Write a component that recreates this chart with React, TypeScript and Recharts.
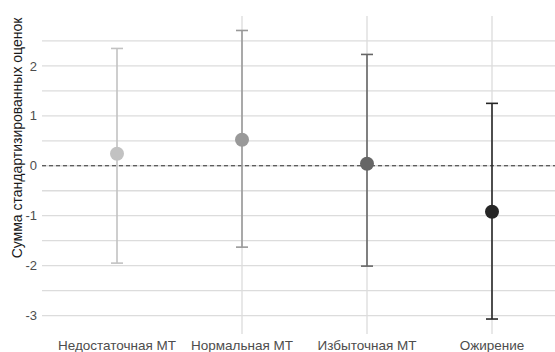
import React from "react";
import {
  ComposedChart,
  Scatter,
  ErrorBar,
  XAxis,
  YAxis,
  CartesianGrid,
  ReferenceLine,
} from "recharts";

const categories = ["Недостаточная МТ", "Нормальная МТ", "Избыточная МТ", "Ожирение"];
const means = [0.24, 0.52, 0.04, -0.92];
const lower = [-1.95, -1.63, -2.01, -3.07];
const upper = [2.35, 2.71, 2.23, 1.25];
const colors = ["#c2c2c2", "#999999", "#666666", "#262626"];

const yTicks = [-3, -2, -1, 0, 1, 2];
const gridY = [-3, -2.5, -2, -1.5, -1, -0.5, 0, 0.5, 1, 1.5, 2, 2.5];
const xTicks = [1, 2, 3, 4];

const font = "'Liberation Sans', Arial, sans-serif";

export default function App() {
  const series = categories.map((name, i) => ({
    name,
    color: colors[i],
    data: [{ x: i + 1, y: means[i], err: [means[i] - lower[i], upper[i] - means[i]] }],
  }));

  return (
    <div
      style={{
        position: "absolute",
        left: 0,
        top: 0,
        width: 555,
        height: 352,
        overflow: "hidden",
        background: "#fff",
        fontFamily: font,
      }}
    >
      <ComposedChart
        width={555}
        height={352}
        margin={{ top: 16, right: 0, bottom: 0, left: 0 }}
      >
        <CartesianGrid
          stroke="#dcdcdc"
          strokeWidth={1.3}
          horizontalValues={gridY}
          verticalValues={xTicks}
        />
        <XAxis
          type="number"
          dataKey="x"
          domain={[0.4, 4.504]}
          ticks={xTicks}
          tickFormatter={(v: number) => categories[v - 1]}
          axisLine={false}
          tickLine={false}
          tickSize={0}
          tickMargin={6}
          height={18}
          allowDataOverflow
          tick={{ fill: "#4d4d4d", fontSize: 13.5, fontFamily: font }}
        />
        <YAxis
          type="number"
          dataKey="y"
          domain={[-3.37, 3.0]}
          ticks={yTicks}
          axisLine={false}
          tickLine={false}
          tickSize={0}
          tickMargin={5}
          width={42}
          allowDataOverflow
          tick={{ fill: "#4d4d4d", fontSize: 13, fontFamily: font }}
        />
        <ReferenceLine y={0} stroke="#333" strokeDasharray="4 3" strokeWidth={1.2} />
        {series.map((s) => (
          <Scatter
            key={s.name}
            name={s.name}
            data={s.data}
            isAnimationActive={false}
            shape={(p: any) => <circle cx={p.cx} cy={p.cy} r={7} fill={s.color} />}
          >
            <ErrorBar dataKey="err" direction="y" width={6} stroke={s.color} strokeWidth={1.6} />
          </Scatter>
        ))}
      </ComposedChart>
      <div
        style={{
          position: "absolute",
          left: 17,
          top: 138,
          transform: "translate(-50%, -50%) rotate(-90deg)",
          whiteSpace: "nowrap",
          fontSize: 14,
          color: "#1a1a1a",
          fontFamily: font,
        }}
      >
        Сумма стандартизированных оценок
      </div>
    </div>
  );
}
